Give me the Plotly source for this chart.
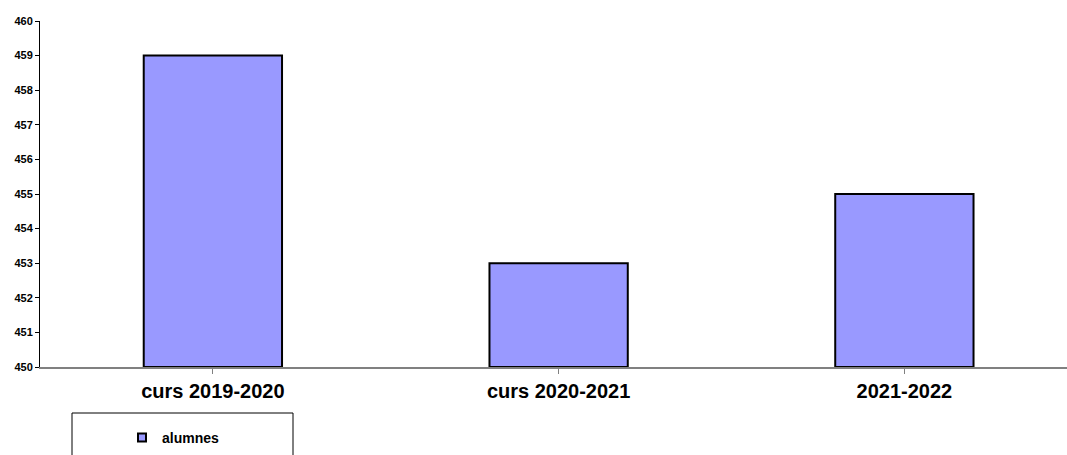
import plotly.graph_objects as go

categories = ["curs 2019-2020", "curs 2020-2021", "2021-2022"]
alumnes = [459, 453, 455]
series_name = "alumnes"
y_ticks = list(range(450, 461))
y_base = 450

W, H = 1067, 455
L, R, T, B = 40, 0, 21, H - 367
pw = W - L - R
ph = H - T - B

def px_x(px):
    return (px - L) / pw

def px_y(py):
    return (H - B - py) / ph

fig = go.Figure()
fig.add_trace(go.Bar(
    x=list(range(len(categories))), y=[v - y_base for v in alumnes], base=y_base,
    name=series_name, showlegend=False,
    marker=dict(color="#9999FF", line=dict(color="black", width=2)),
    width=0.4,
))
fig.add_trace(go.Scatter(
    x=[None], y=[None], mode="markers", name="<b>%s</b>" % series_name,
    marker=dict(symbol="square", size=8, color="#9999FF", line=dict(color="black", width=2)),
))

fig.update_layout(
    width=W, height=H,
    margin=dict(l=L, r=R, t=T, b=B),
    plot_bgcolor="white", paper_bgcolor="white",
    font=dict(family="Arial, Liberation Sans, sans-serif", color="black"),
    showlegend=True,
    legend=dict(
        x=px_x(122), y=px_y(438), xanchor="left", yanchor="middle",
        bgcolor="rgba(0,0,0,0)", borderwidth=0,
        font=dict(size=14, family="Arial, Liberation Sans, sans-serif"),
        itemwidth=30,
    ),
)
fig.update_xaxes(
    range=[-0.5, 2 + (W - R - 904.5) / 345.5],
    tickvals=list(range(len(categories))),
    ticktext=["<b>%s</b>" % c for c in categories],
    tickfont=dict(size=20),
    showline=True, linecolor="#808080", linewidth=2,
    ticks="outside", tickson="boundaries", ticklen=5, tickcolor="#808080", tickwidth=1,
    showgrid=False, zeroline=False,
)
fig.update_yaxes(
    range=[450, 460],
    tickvals=y_ticks,
    ticktext=["<b>%d</b>" % v for v in y_ticks],
    tickfont=dict(size=11),
    showline=True, linecolor="black", linewidth=1,
    ticks="outside", ticklen=4, tickcolor="black",
    showgrid=False, zeroline=False,
)
fig.add_shape(
    type="rect", xref="paper", yref="paper",
    x0=px_x(72), x1=px_x(293),
    y0=px_y(413), y1=px_y(480),
    line=dict(color="black", width=1), fillcolor="rgba(0,0,0,0)",
)
fig.write_html(
    "out.html",
    config={"displayModeBar": False},
    post_script="document.body.style.margin='0';document.body.style.overflow='hidden';",
)
